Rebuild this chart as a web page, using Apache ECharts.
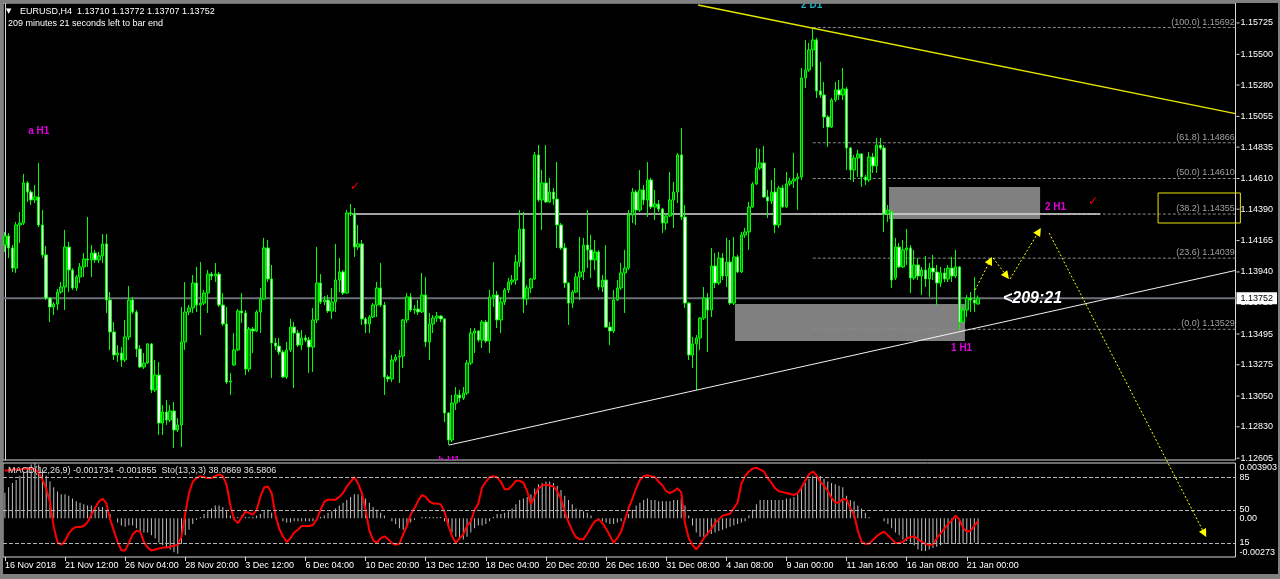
<!DOCTYPE html>
<html><head><meta charset="utf-8">
<script src="https://cdn.jsdelivr.net/npm/echarts@6/dist/echarts.min.js"></script>
<style>html,body{margin:0;padding:0;background:#000;}#c{width:1280px;height:579px;}#f{position:absolute;left:0;top:0;width:1280px;height:579px;box-sizing:border-box;border-style:solid;border-color:#808080;border-width:3px 2px 5px 3px;pointer-events:none;}</style>
</head><body><div id="c"></div><div id="f"></div>
<script>
const timeLabels = ['16 Nov 2018','21 Nov 12:00','26 Nov 04:00','28 Nov 20:00','3 Dec 12:00','6 Dec 04:00','10 Dec 20:00','13 Dec 12:00','18 Dec 04:00','20 Dec 20:00','26 Dec 16:00','31 Dec 08:00','4 Jan 08:00','9 Jan 00:00','11 Jan 16:00','16 Jan 08:00','21 Jan 00:00'];
const opens = [1.14133,1.14198,1.14112,1.13968,1.14277,1.14291,1.14578,1.14513,1.14456,1.14478,
1.14277,1.14062,1.13753,1.13689,1.13710,1.13796,1.13832,1.14119,1.13954,1.13825,
1.13904,1.13976,1.14033,1.14026,1.14076,1.14026,1.14055,1.14141,1.13739,1.13510,
1.13345,1.13359,1.13309,1.13474,1.13739,1.13653,1.13388,1.13259,1.13287,1.13424,
1.13094,1.13201,1.12857,1.12936,1.12879,1.12943,1.12807,1.12843,1.13438,1.13653,
1.13682,1.13861,1.13703,1.13717,1.13789,1.13925,1.13911,1.13925,1.13703,1.13567,
1.13151,1.13273,1.13381,1.13660,1.13646,1.13244,1.13531,1.13517,1.13653,1.13746,
1.14112,1.13890,1.13431,1.13409,1.13366,1.13187,1.13381,1.13545,1.13502,1.13416,
1.13467,1.13452,1.13402,1.13596,1.13861,1.13725,1.13739,1.13660,1.13725,1.13882,
1.13940,1.13789,1.14363,1.14356,1.14119,1.14141,1.13603,1.13567,1.13617,1.13703,
1.13825,1.13703,1.13187,1.13173,1.13309,1.13330,1.13337,1.13596,1.13761,1.13667,
1.13674,1.13653,1.13775,1.13438,1.13567,1.13610,1.13624,1.13603,1.12929,1.12735,
1.13000,1.13058,1.13036,1.13072,1.13287,1.13502,1.13517,1.13452,1.13581,1.13445,
1.13761,1.13775,1.13596,1.13725,1.13811,1.13868,1.13882,1.14011,1.14248,1.13746,
1.13825,1.13890,1.14779,1.14456,1.14578,1.14442,1.14513,1.14463,1.14277,1.14112,
1.13861,1.13717,1.13796,1.13904,1.13940,1.14133,1.14098,1.14026,1.14083,1.13832,
1.13882,1.13545,1.13517,1.13739,1.13825,1.13933,1.13968,1.14348,1.14513,1.14384,
1.14528,1.14456,1.14599,1.14406,1.14427,1.14391,1.14291,1.14341,1.14456,1.14513,
1.14779,1.14334,1.13717,1.13345,1.13424,1.13467,1.13610,1.13753,1.13667,1.13983,
1.13861,1.14040,1.13911,1.14011,1.13717,1.14048,1.13940,1.14205,1.14227,1.14406,
1.14571,1.14685,1.14721,1.14478,1.14449,1.14513,1.14277,1.14542,1.14406,1.14571,
1.14592,1.14607,1.14621,1.15331,1.15388,1.15532,1.15603,1.15238,1.15209,1.15051,
1.14979,1.15173,1.15245,1.15209,1.15252,1.14829,1.14671,1.14757,1.14786,1.14621,
1.14599,1.14764,1.14700,1.14850,1.14829,1.14356,1.14370,1.13897,1.14119,1.13976,
1.14098,1.14112,1.13897,1.13990,1.13911,1.13954,1.13890,1.13968,1.13940,1.13861,
1.13933,1.13890,1.13968,1.13911,1.13976,1.13581,1.13667,1.13753,1.13739,1.13710];
const closes = [1.14198,1.14112,1.13968,1.14277,1.14291,1.14578,1.14513,1.14456,1.14478,1.14277,
1.14062,1.13753,1.13689,1.13710,1.13796,1.13832,1.14119,1.13954,1.13825,1.13904,
1.13976,1.14033,1.14026,1.14076,1.14026,1.14055,1.14141,1.13739,1.13510,1.13345,
1.13359,1.13309,1.13474,1.13739,1.13653,1.13388,1.13259,1.13287,1.13424,1.13094,
1.13201,1.12857,1.12936,1.12879,1.12943,1.12807,1.12843,1.13438,1.13653,1.13682,
1.13861,1.13703,1.13717,1.13789,1.13925,1.13911,1.13925,1.13703,1.13567,1.13151,
1.13158,1.13381,1.13660,1.13646,1.13244,1.13531,1.13517,1.13653,1.13746,1.14112,
1.13890,1.13431,1.13409,1.13366,1.13187,1.13381,1.13545,1.13502,1.13416,1.13467,
1.13452,1.13402,1.13596,1.13861,1.13725,1.13739,1.13660,1.13725,1.13882,1.13940,
1.13789,1.14363,1.14356,1.14119,1.14141,1.13603,1.13567,1.13617,1.13703,1.13825,
1.13703,1.13187,1.13173,1.13309,1.13330,1.13337,1.13596,1.13761,1.13667,1.13674,
1.13653,1.13775,1.13438,1.13567,1.13610,1.13624,1.13603,1.12929,1.12735,1.13000,
1.13058,1.13036,1.13072,1.13287,1.13502,1.13517,1.13452,1.13581,1.13445,1.13761,
1.13775,1.13596,1.13725,1.13811,1.13868,1.13882,1.14011,1.14248,1.13746,1.13825,
1.13890,1.14779,1.14456,1.14578,1.14442,1.14513,1.14463,1.14277,1.14112,1.13861,
1.13717,1.13796,1.13904,1.13940,1.14133,1.14098,1.14026,1.14083,1.13832,1.13882,
1.13545,1.13517,1.13739,1.13825,1.13933,1.13968,1.14348,1.14513,1.14384,1.14528,
1.14456,1.14599,1.14406,1.14427,1.14391,1.14291,1.14341,1.14456,1.14513,1.14779,
1.14334,1.13717,1.13345,1.13424,1.13467,1.13610,1.13753,1.13667,1.13983,1.13861,
1.14040,1.13911,1.14011,1.13717,1.14048,1.13940,1.14205,1.14227,1.14406,1.14571,
1.14685,1.14721,1.14478,1.14449,1.14513,1.14277,1.14542,1.14406,1.14571,1.14592,
1.14607,1.14621,1.15331,1.15388,1.15532,1.15603,1.15238,1.15209,1.15051,1.14979,
1.15173,1.15245,1.15209,1.15252,1.14829,1.14671,1.14757,1.14786,1.14621,1.14599,
1.14764,1.14700,1.14850,1.14829,1.14356,1.14384,1.13882,1.14119,1.13976,1.14098,
1.14112,1.13897,1.13990,1.13911,1.13954,1.13890,1.13968,1.13940,1.13861,1.13933,
1.13890,1.13968,1.13911,1.13976,1.13581,1.13667,1.13753,1.13739,1.13717,1.13752];
const highs = [1.14227,1.14219,1.14133,1.14298,1.14370,1.14642,1.14592,1.14528,1.14564,1.14721,
1.14384,1.14126,1.13761,1.13725,1.13818,1.13868,1.14241,1.14155,1.13968,1.13918,
1.14004,1.14076,1.14334,1.14133,1.14098,1.14083,1.14212,1.14212,1.13796,1.13581,
1.13416,1.13402,1.13596,1.13839,1.13761,1.13667,1.13416,1.13359,1.13431,1.13431,
1.13309,1.13294,1.12986,1.13022,1.12986,1.13008,1.12893,1.13689,1.13868,1.13703,
1.13918,1.13976,1.14011,1.13811,1.13954,1.13940,1.14004,1.13940,1.13789,1.13689,
1.13216,1.13502,1.13674,1.13789,1.13667,1.13545,1.13545,1.13667,1.13825,1.14184,
1.14169,1.13990,1.13467,1.13467,1.13381,1.13438,1.13603,1.13581,1.13524,1.13524,
1.13488,1.13474,1.13682,1.14119,1.13925,1.13768,1.13775,1.13825,1.14141,1.14040,
1.13954,1.14384,1.14427,1.14399,1.14277,1.14169,1.13617,1.13631,1.13717,1.13868,
1.14004,1.13725,1.13201,1.13345,1.13352,1.13381,1.13603,1.13789,1.13789,1.13703,
1.13739,1.13933,1.13904,1.13646,1.13631,1.13653,1.13631,1.13610,1.12936,1.13058,
1.13115,1.13094,1.13115,1.13309,1.13538,1.13538,1.13524,1.13596,1.13596,1.13811,
1.14011,1.13804,1.13761,1.13825,1.13897,1.13918,1.14062,1.14384,1.14370,1.13847,
1.13897,1.14800,1.14850,1.14671,1.14850,1.14614,1.14542,1.14728,1.14291,1.14148,
1.13868,1.13811,1.13933,1.14191,1.14184,1.14384,1.14205,1.14169,1.14098,1.13918,
1.14133,1.13581,1.13811,1.13882,1.14004,1.14098,1.14384,1.14542,1.14528,1.14671,
1.14564,1.14728,1.14614,1.14528,1.14456,1.14399,1.14363,1.14657,1.14585,1.14793,
1.14972,1.14420,1.13725,1.13474,1.13488,1.13617,1.13832,1.13789,1.14112,1.14076,
1.14083,1.14076,1.14184,1.14169,1.14191,1.14062,1.14227,1.14255,1.14442,1.14585,
1.14829,1.14822,1.14843,1.14528,1.14599,1.14685,1.14556,1.14564,1.14657,1.14614,
1.14793,1.14650,1.15402,1.15603,1.15582,1.15692,1.15618,1.15446,1.15302,1.15065,
1.15187,1.15302,1.15316,1.15402,1.15266,1.14836,1.14779,1.14815,1.14793,1.14635,
1.14800,1.14793,1.14901,1.14901,1.14850,1.14420,1.14384,1.14184,1.14148,1.14169,
1.14248,1.14133,1.14098,1.14040,1.13976,1.14055,1.14004,1.14062,1.13990,1.13976,
1.13968,1.13990,1.14048,1.14098,1.13983,1.13689,1.13775,1.13796,1.13904,1.13772];
const lows = [1.14083,1.14040,1.13940,1.13933,1.14148,1.14277,1.14442,1.14420,1.14434,1.14262,
1.14040,1.13739,1.13581,1.13631,1.13667,1.13782,1.13667,1.13796,1.13811,1.13804,
1.13861,1.13904,1.13976,1.13904,1.14004,1.14004,1.14004,1.13646,1.13381,1.13309,
1.13294,1.13259,1.13294,1.13452,1.13639,1.13330,1.13251,1.13244,1.13280,1.13072,
1.13079,1.12771,1.12771,1.12843,1.12864,1.12678,1.12793,1.12685,1.13381,1.13631,
1.13646,1.13653,1.13488,1.13703,1.13646,1.13882,1.13868,1.13689,1.13553,1.13137,
1.13058,1.13266,1.13373,1.13574,1.13201,1.13223,1.13359,1.13510,1.13502,1.13739,
1.13868,1.13180,1.13381,1.13345,1.13180,1.13173,1.13366,1.13108,1.13402,1.13381,
1.13438,1.13216,1.13223,1.13574,1.13710,1.13703,1.13646,1.13603,1.13653,1.13796,
1.13775,1.13782,1.14341,1.14048,1.14098,1.13560,1.13502,1.13502,1.13610,1.13617,
1.13689,1.13058,1.13151,1.13151,1.13294,1.13144,1.13251,1.13574,1.13653,1.13639,
1.13631,1.13646,1.13402,1.13309,1.13502,1.13581,1.13581,1.12864,1.12699,1.12721,
1.12950,1.13008,1.13022,1.13058,1.13273,1.13359,1.13438,1.13395,1.13431,1.13359,
1.13689,1.13538,1.13502,1.13703,1.13789,1.13847,1.13847,1.13976,1.13646,1.13703,
1.13789,1.13882,1.14442,1.14241,1.14434,1.14434,1.14420,1.14112,1.14098,1.13825,
1.13560,1.13682,1.13789,1.13739,1.13882,1.13968,1.13897,1.13954,1.13811,1.13796,
1.13538,1.13416,1.13502,1.13732,1.13811,1.13646,1.13954,1.14291,1.14277,1.14370,
1.14420,1.14334,1.14391,1.14313,1.14370,1.14219,1.14241,1.14334,1.14255,1.14434,
1.14313,1.13682,1.13309,1.13251,1.13094,1.13381,1.13596,1.13366,1.13617,1.13825,
1.13847,1.13882,1.13832,1.13703,1.13703,1.13933,1.13933,1.14184,1.14098,1.14399,
1.14564,1.14671,1.14470,1.14327,1.14427,1.14219,1.14255,1.14399,1.14399,1.14556,
1.14542,1.14384,1.14599,1.15259,1.15374,1.15410,1.15187,1.15187,1.14972,1.14836,
1.14972,1.15159,1.15173,1.15173,1.14671,1.14599,1.14585,1.14621,1.14549,1.14564,
1.14585,1.14650,1.14650,1.14815,1.14227,1.14298,1.13825,1.13882,1.13968,1.13968,
1.13990,1.13789,1.13882,1.13882,1.13775,1.13832,1.13761,1.13882,1.13703,1.13832,
1.13868,1.13868,1.13868,1.13897,1.13529,1.13574,1.13617,1.13653,1.13653,1.13707];
const macdMain = [0.0018,0.0022,0.0025,0.0027,0.0030,0.0033,0.0036,0.0038,0.0039,0.0038,
0.0035,0.0030,0.0026,0.0022,0.0019,0.0017,0.0017,0.0016,0.0014,0.0012,
0.0011,0.0010,0.0009,0.0009,0.0008,0.0008,0.0008,0.0006,0.0003,0.0000,
-0.0003,-0.0005,-0.0006,-0.0005,-0.0005,-0.0007,-0.0009,-0.0010,-0.0010,-0.0012,
-0.0014,-0.0017,-0.0019,-0.0021,-0.0022,-0.0024,-0.0025,-0.0018,-0.0012,-0.0008,
-0.0004,-0.0001,0.0001,0.0003,0.0005,0.0007,0.0009,0.0009,0.0008,0.0005,
0.0002,0.0001,0.0001,0.0002,0.0001,0.0001,0.0001,0.0002,0.0003,0.0005,
0.0006,0.0004,0.0002,0.0000,-0.0002,-0.0003,-0.0003,-0.0002,-0.0002,-0.0002,
-0.0002,-0.0002,-0.0002,0.0000,0.0001,0.0002,0.0004,0.0005,0.0007,0.0009,
0.0011,0.0013,0.0015,0.0017,0.0017,0.0016,0.0014,0.0011,0.0008,0.0006,
0.0004,0.0002,0.0000,-0.0002,-0.0004,-0.0007,-0.0008,-0.0006,-0.0003,-0.0001,
0.0000,0.0001,0.0001,0.0001,0.0001,0.0001,0.0001,-0.0002,-0.0006,-0.0010,
-0.0013,-0.0015,-0.0015,-0.0013,-0.0010,-0.0007,-0.0005,-0.0005,-0.0004,-0.0002,
0.0001,0.0003,0.0003,0.0004,0.0005,0.0007,0.0010,0.0013,0.0014,0.0015,
0.0017,0.0021,0.0024,0.0025,0.0026,0.0026,0.0025,0.0023,0.0020,0.0016,
0.0013,0.0010,0.0007,0.0006,0.0005,0.0004,0.0002,0.0000,-0.0001,-0.0002,
-0.0003,-0.0004,-0.0004,-0.0003,-0.0002,-0.0001,0.0003,0.0006,0.0009,0.0011,
0.0013,0.0014,0.0013,0.0013,0.0012,0.0012,0.0012,0.0012,0.0013,0.0013,
0.0014,0.0009,0.0002,-0.0005,-0.0010,-0.0013,-0.0013,-0.0012,-0.0011,-0.0010,
-0.0009,-0.0008,-0.0007,-0.0006,-0.0005,-0.0004,-0.0003,-0.0002,0.0002,0.0006,
0.0010,0.0013,0.0013,0.0013,0.0013,0.0013,0.0013,0.0013,0.0014,0.0014,
0.0015,0.0017,0.0021,0.0025,0.0028,0.0030,0.0030,0.0030,0.0028,0.0026,
0.0025,0.0024,0.0023,0.0022,0.0016,0.0013,0.0012,0.0009,0.0007,0.0004,
0.0001,0.0000,0.0000,0.0000,-0.0002,-0.0004,-0.0007,-0.0010,-0.0012,-0.0015,
-0.0016,-0.0017,-0.0019,-0.0022,-0.0023,-0.0023,-0.0022,-0.0021,-0.0020,-0.0019,
-0.0018,-0.0018,-0.0018,-0.0018,-0.0018,-0.0018,-0.0018,-0.0018,-0.0017,-0.001734];
const stochMain = [92,92,93,93,93,94,94,94,93,90,
82,73,58,32,16,13,17,25,30,32,
32,33,37,45,52,59,62,57,40,28,
16,7,7,15,24,28,27,16,10,7,
8,9,10,10,11,12,13,22,46,68,
80,84,86,85,84,84,86,88,86,77,
55,40,36,42,48,47,45,50,64,74,
75,68,45,30,22,16,20,26,29,33,
33,33,34,40,50,59,61,61,61,64,
68,75,80,85,78,68,50,28,18,15,
20,22,19,15,13,14,24,33,45,52,
60,66,64,59,57,57,56,48,34,22,
15,20,24,33,38,50,57,74,80,85,
86,85,80,72,72,76,81,81,79,70,
56,65,73,76,77,76,75,70,62,48,
37,28,21,19,19,25,32,38,40,36,
30,23,15,20,27,40,52,62,73,82,
86,87,86,85,80,76,70,68,70,73,
69,36,20,13,8,13,20,25,30,36,
40,44,45,46,52,58,78,86,91,94,
95,93,91,84,79,73,70,69,68,67,
66,68,74,81,88,91,87,80,76,70,
63,58,58,62,61,52,45,28,16,14,
14,18,22,25,27,23,19,15,15,16,
20,21,22,19,16,14,13,13,20,25,
30,35,39,44,40,31,27,28,33,38.0869];
const priceTicks = [1.15725,1.15500,1.15280,1.15055,1.14835,1.14610,1.14390,1.14165,1.13940,1.13720,1.13495,1.13275,1.13050,1.12830,1.12605];
const stochLevels = [15,50,85];
const macdTicks = [-0.00273,0,0.003903];
const fibRatios = ['100.0','61.8','50.0','38.2','23.6','0.0'];
const fibLevels = [1.15692,1.14866,1.14610,1.14355,1.14039,1.13529];
const fibAnchor = 215;
const zones = [[235.3,1.14549,275.5,1.14320],[194.3,1.13710,255.5,1.13445]];
const levelLine = [[92.4,1.14355,291.5,1.14355]];
const yellowTrend = [[184.5,1.15854,327.5,1.15075]];
const whiteTrend = [[118.2,1.12699,327.5,1.13951]];
const targetBox = [[306.9,1.14506,328.8,1.14291]];
const pathArrows = [[258.2,1.13811,262.7,1.14047],[263.0,1.14040,267.2,1.13890],[267.5,1.13890,275.7,1.14255],[277.9,1.14219,319.7,1.12040]];
const noteTexts = ['a H1','b H1','1 H1','2 H1'];
const noteAnchors = [[6.2,1.14951],[115.3,1.12581],[251.8,1.13395],[276.8,1.14406]];
const waveTexts = ['2 D1'];
const waveAnchors = [[211.9,1.15854]];
const checkAnchors = [[93.2,1.14549],[289.6,1.14442]];
const timerTexts = ['<209:21'];
const timerAnchors = [[265.6,1.13752]];
const priceMin = 1.12592, priceMax = 1.15868;
const SLOTS = 328;

const F = '"Liberation Sans",Arial,sans-serif';
const FS = 9;
const cats = Array.from({length: SLOTS}, (_, i) => String(i));
const candleData = opens.map((o, i) => [o, closes[i], lows[i], highs[i]]);
const last = closes.length - 1;
const lastClose = closes[last];
const showTick = i => i % 16 === 0 && i / 16 < timeLabels.length;

function segItem(style, dx1, dx2){ return (params, api) => { const a = api.coord([api.value(0), api.value(1)]); const b = api.coord([api.value(2), api.value(3)]); return {type:'line', shape:{x1:a[0]+(dx1||0),y1:a[1],x2:b[0]+(dx2||0),y2:b[1]}, style:Object.assign({}, style)}; }; }
function rectItem(style){ return (params, api) => { const a = api.coord([api.value(0), api.value(1)]); const b = api.coord([api.value(2), api.value(3)]); return {type:'rect', shape:{x:Math.min(a[0],b[0]), y:Math.min(a[1],b[1]), width:Math.abs(b[0]-a[0]), height:Math.abs(b[1]-a[1])}, style:Object.assign({}, style)}; }; }
function textItem(texts, style, dx, dy){ return (params, api) => { const p = api.coord([api.value(0), api.value(1)]); return {type:'text', x:p[0] + (dx||0), y:p[1] + (dy||0), style:Object.assign({text: texts[params.dataIndex]}, style)}; }; }
function arrowItem(params, api){
  const a = api.coord([api.value(0), api.value(1)]), b = api.coord([api.value(2), api.value(3)]);
  const dx = b[0]-a[0], dy = b[1]-a[1], L = Math.hypot(dx, dy), ux = dx/L, uy = dy/L;
  const hl = 8, hw = 4, bx = b[0]-ux*hl, by = b[1]-uy*hl;
  return {type:'group', children:[
    {type:'line', shape:{x1:a[0],y1:a[1],x2:bx,y2:by}, style:{stroke:'#ffff00', lineWidth:1, lineDash:[2,2]}},
    {type:'polygon', shape:{points:[[b[0],b[1]],[bx-uy*hw,by+ux*hw],[bx+uy*hw,by-ux*hw]]}, style:{fill:'#ffff00'}}
  ]};
}
function custom(name, data, renderItem, z, clip){ return {name, type:'custom', xAxisIndex:1, yAxisIndex:0, data, renderItem, z, clip, silent:true, animation:false}; }

const chart = echarts.init(document.getElementById('c'), null, {renderer:'canvas', width:1280, height:579});
chart.setOption({
  animation:false,
  backgroundColor:'#000',
  grid:[
    {left:3, top:3, width:1232.5, height:457, show:true, borderColor:'#d8d8d8', borderWidth:1, backgroundColor:'#000'},
    {left:3, top:463, width:1232.5, height:94, show:true, borderColor:'#d8d8d8', borderWidth:1, backgroundColor:'#000'}
  ],
  xAxis:[
    {type:'category', gridIndex:0, data:cats, boundaryGap:true, show:false},
    {type:'value', gridIndex:0, min:-0.5, max:SLOTS-0.5, show:false},
    {type:'category', gridIndex:1, data:cats, boundaryGap:true,
      axisLine:{show:false},
      axisTick:{show:true, alignWithLabel:true, interval:(i)=>showTick(i), length:4, lineStyle:{color:'#d8d8d8'}},
      axisLabel:{interval:(i)=>showTick(i), formatter:(v,i)=>timeLabels[i/16] || '', align:'left', color:'#fff', fontSize:FS, fontFamily:F, margin:4},
      splitLine:{show:false}}
  ],
  yAxis:[
    {type:'value', gridIndex:0, position:'right', min:priceMin, max:priceMax,
      axisLine:{show:true, lineStyle:{color:'#d8d8d8'}},
      axisTick:{show:false},
      axisLabel:{customValues:priceTicks, formatter:v=>v.toFixed(5), color:'#fff', fontSize:FS, fontFamily:F, margin:5},
      splitLine:{show:false}},
    {type:'value', gridIndex:1, position:'right', min:0, max:100,
      axisLine:{show:false}, axisTick:{show:false},
      axisLabel:{customValues:stochLevels, color:'#fff', fontSize:FS, fontFamily:F, margin:4},
      splitLine:{show:false}},
    {type:'value', gridIndex:1, position:'right', min:macdTicks[0], max:macdTicks[2],
      axisLine:{show:false}, axisTick:{show:false},
      axisLabel:{customValues:macdTicks, formatter:v=> v===0 ? '0.00' : String(v), color:'#fff', fontSize:FS, fontFamily:F, margin:4, verticalAlignMinLabel:'bottom', verticalAlignMaxLabel:'top'},
      splitLine:{show:false}}
  ],
  graphic:[
    {type:'text', left:6, top:8, z:100, style:{text:'▼', fill:'#fff', font:'7px "DejaVu Sans"'}},
    {type:'text', left:20, top:7, z:100, style:{text:'EURUSD,H4  ' + [opens[last],highs[last],lows[last],closes[last]].map(v=>v.toFixed(5)).join(' '), fill:'#fff', font:FS + 'px ' + F}},
    {type:'text', left:8, top:19, z:100, style:{text:'209 minutes 21 seconds left to bar end', fill:'#fff', font:FS + 'px ' + F}},
    {type:'text', left:8, top:466, z:100, style:{text:'MACD(12,26,9) -0.001734 -0.001855  Sto(13,3,3) 38.0869 36.5806', fill:'#e0e0e0', font:FS + 'px ' + F}}
  ],
  series:[
    custom('zones', zones, rectItem({fill:'#808080'}), 1, true),
    custom('fib', fibLevels.map(v=>[fibAnchor, v, SLOTS-0.5, v]), segItem({stroke:'#8a8a8a', lineWidth:1, lineDash:[3,2]}), 1, true),
    custom('level', levelLine, segItem({stroke:'#d8d8d8', lineWidth:1.5}), 2, true),
    custom('priceLine', [[-0.5, lastClose, SLOTS-0.5, lastClose]], segItem({stroke:'#6b7078', lineWidth:2}), 2, true),
    custom('priceTicks', priceTicks.map(v=>[SLOTS-0.5, v, SLOTS-0.5, v]), segItem({stroke:'#d8d8d8', lineWidth:1}, 1, 4), 2, false),
    {name:'EURUSD', type:'candlestick', xAxisIndex:0, yAxisIndex:0, data:candleData, barWidth:3, z:3,
      itemStyle:{color:'#008000', color0:'#ffffff', borderColor:'#00ff00', borderColor0:'#00ff00', borderWidth:1}},
    custom('yellowTrend', yellowTrend, segItem({stroke:'#e6e600', lineWidth:1.5}), 4, true),
    custom('whiteTrend', whiteTrend, segItem({stroke:'#f2f2f2', lineWidth:1}), 4, true),
    custom('targetBox', targetBox, rectItem({stroke:'#e6e600', lineWidth:1, fill:'rgba(0,0,0,0)'}), 5, false),
    custom('arrows', pathArrows, arrowItem, 5, false),
    custom('priceTag', [[SLOTS-0.5, lastClose]], textItem([lastClose.toFixed(5)], {fill:'#000', backgroundColor:'#fff', padding:[2,4,1,4], font:FS + 'px ' + F, align:'left', verticalAlign:'middle'}, 1, 0), 7, false),
    custom('fibLabels', fibLevels.map(v=>[SLOTS-0.7, v]), textItem(fibLevels.map((v,i)=>'('+fibRatios[i]+') '+v.toFixed(5)), {fill:'#a0a0a0', font:FS + 'px ' + F, align:'right', verticalAlign:'bottom'}, 0, -1), 6, true),
    custom('notes', noteAnchors, textItem(noteTexts, {fill:'#e000e0', font:'bold 10px "Liberation Sans",Arial,sans-serif', align:'left', verticalAlign:'middle'}), 6, true),
    custom('wave', waveAnchors, textItem(waveTexts, {fill:'#20b0c0', font:'bold 10px "Liberation Sans",Arial,sans-serif', align:'left', verticalAlign:'middle'}), 6, true),
    custom('checks', checkAnchors, textItem(checkAnchors.map(()=>'✓'), {fill:'#ff0000', font:'12px "DejaVu Sans"', align:'center', verticalAlign:'middle'}), 6, true),
    custom('timer', timerAnchors, textItem(timerTexts, {fill:'#ffffff', font:'italic bold 16px "Liberation Sans",Arial,sans-serif', align:'left', verticalAlign:'middle'}), 6, true),
    {name:'MACD', type:'bar', xAxisIndex:2, yAxisIndex:2, data:macdMain, barWidth:1, itemStyle:{color:'#c0c0c0'}, z:2, silent:true},
    {name:'Stoch', type:'line', xAxisIndex:2, yAxisIndex:1, data:stochMain, symbol:'none', lineStyle:{color:'#ff0000', width:2}, z:3, silent:true,
      markLine:{silent:true, symbol:['none','none'], label:{show:false}, lineStyle:{color:'#b4b4b4', width:1, type:[4,2]}, data:stochLevels.map(v=>({yAxis:v}))}}
  ]
});
</script></body></html>
